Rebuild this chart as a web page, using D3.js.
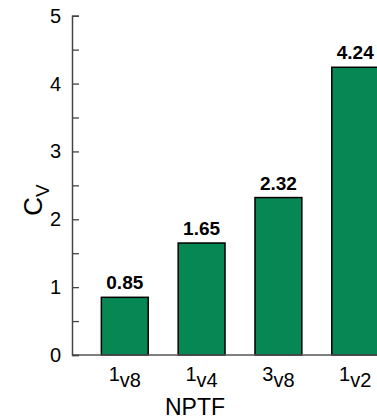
<!DOCTYPE html>
<html>
<head>
<meta charset="utf-8">
<script src="https://cdn.jsdelivr.net/npm/d3@7"></script>
<style>
  body { margin: 0; background: #fff; overflow: hidden; }
  svg { display: block; }
  text { font-family: "Liberation Sans", Arial, sans-serif; }
</style>
</head>
<body>
<script>
// chart data
const categories = ["1/8", "1/4", "3/8", "1/2"];
const numerators = ["1", "1", "3", "1"];
const denominators = ["8", "4", "8", "2"];
const cvValues = [0.85, 1.65, 2.32, 4.24];
const yTicks = [0, 1, 2, 3, 4, 5];

const w = 377, h = 419;
const padLeft = 72, padTop = 15.7, baseY = 355;

const svg = d3.select("body").append("svg")
  .attr("width", w)
  .attr("height", h);

const xScale = d3.scaleBand()
  .domain(categories)
  .range([86, 394])
  .paddingInner(0.39)
  .paddingOuter(0.2);

const yScale = d3.scaleLinear()
  .domain([0, 5])
  .range([baseY, padTop]);

// bars
svg.selectAll("rect.bar")
  .data(cvValues)
  .enter()
  .append("rect")
  .attr("class", "bar")
  .attr("x", (d, i) => xScale(categories[i]))
  .attr("y", d => yScale(d))
  .attr("width", xScale.bandwidth())
  .attr("height", d => baseY - yScale(d))
  .attr("fill", "#078753")
  .attr("stroke", "#000")
  .attr("stroke-width", 1.5);

// value labels
svg.selectAll("text.val")
  .data(cvValues)
  .enter()
  .append("text")
  .attr("class", "val")
  .attr("x", (d, i) => xScale(categories[i]) + xScale.bandwidth() / 2)
  .attr("y", d => yScale(d) - 8)
  .attr("text-anchor", "middle")
  .attr("font-size", 19)
  .attr("font-weight", "bold")
  .text(d => d.toFixed(2));

// x baseline
svg.append("line")
  .attr("x1", padLeft).attr("x2", w)
  .attr("y1", baseY).attr("y2", baseY)
  .attr("stroke", "#555")
  .attr("stroke-width", 1.5);

// y axis, ticks pointing inward
const yAxis = d3.axisRight(yScale)
  .tickValues(d3.range(0, 5.01, 0.5))
  .tickSize(7)
  .tickFormat("");
const gy = svg.append("g")
  .attr("transform", "translate(" + padLeft + ",0)")
  .call(yAxis);
gy.select(".domain").attr("stroke", "#444").attr("stroke-width", 1.5);
gy.selectAll(".tick line").attr("stroke", "#444").attr("stroke-width", 1.3);

svg.selectAll("text.ytick")
  .data(yTicks)
  .enter()
  .append("text")
  .attr("class", "ytick")
  .attr("x", padLeft - 11)
  .attr("y", d => yScale(d) + 7)
  .attr("text-anchor", "end")
  .attr("font-size", 20)
  .text(d => d);

// x tick labels like 1v8
const xl = svg.selectAll("text.xtick")
  .data(categories)
  .enter()
  .append("text")
  .attr("class", "xtick")
  .attr("x", d => xScale(d) + xScale.bandwidth() / 2)
  .attr("y", 387)
  .attr("text-anchor", "middle")
  .attr("font-size", 20);
xl.append("tspan").attr("dy", -6).text((d, i) => numerators[i]);
xl.append("tspan").attr("dy", 6).text((d, i) => "v" + denominators[i]);

svg.append("text")
  .attr("x", 195)
  .attr("y", 415)
  .attr("text-anchor", "middle")
  .attr("font-size", 23)
  .text("NPTF");

const yl = svg.append("text")
  .attr("transform", "translate(42,200) rotate(-90)")
  .attr("text-anchor", "middle")
  .attr("font-size", 26);
yl.append("tspan").text("C");
yl.append("tspan").attr("dy", 7).attr("font-size", 19).text("V");
</script>
</body>
</html>
